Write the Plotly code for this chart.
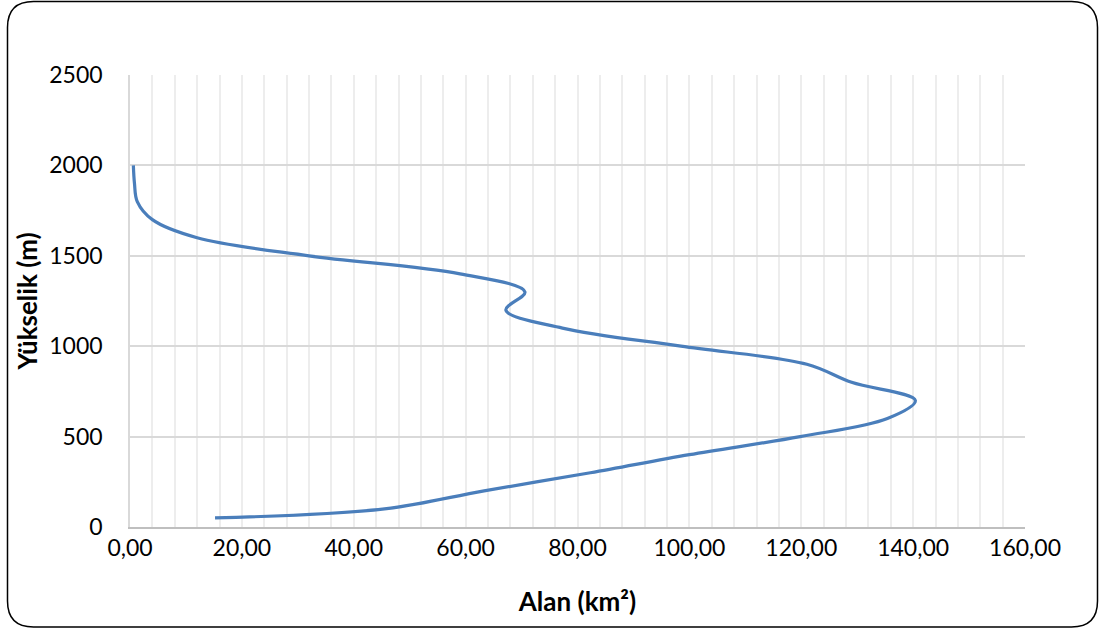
import plotly.graph_objects as go

# Data
elevation_m = [50, 100, 200, 300, 400, 500, 600, 700, 800, 900, 1000,
               1100, 1200, 1300, 1400, 1500, 1600, 1700, 1800, 1900, 2000]
area_km2 = [15.2, 45.5, 63.3, 82.3, 100.0, 119.8, 135.4, 140.4, 129.0, 121.0, 98.5,
            77.3, 67.2, 70.6, 59.0, 32.0, 12.0, 4.0, 1.3, 0.8, 0.6]

x_tickvals = [0, 20, 40, 60, 80, 100, 120, 140, 160]
x_ticktext = ["0,00", "20,00", "40,00", "60,00", "80,00", "100,00", "120,00", "140,00", "160,00"]
y_tickvals = [0, 500, 1000, 1500, 2000, 2500]
y_ticktext = ["0", "500", "1000", "1500", "2000", "2500"]

W, H = 1099, 629
L, R, T, B = 130, 1025, 75, 527
FONT = "Lato, 'Open Sans', sans-serif"

fig = go.Figure()
fig.add_trace(go.Scatter(
    x=area_km2, y=elevation_m, mode="lines",
    line=dict(color="#4A7EBB", width=3.2, shape="spline", smoothing=1.0),
    hoverinfo="x+y", showlegend=False,
))

# rounded border around the chart, in pixels converted to paper coordinates
def px(xp):
    return (xp - L) / (R - L)

def py(yp):
    return (B - yp) / (B - T)

x0, x1, y0, y1, r = 7.5, 1097.5, 1.5, 627, 26
path = (
    f"M {px(x0 + r)},{py(y0)} L {px(x1 - r)},{py(y0)} "
    f"Q {px(x1)},{py(y0)} {px(x1)},{py(y0 + r)} "
    f"L {px(x1)},{py(y1 - r)} "
    f"Q {px(x1)},{py(y1)} {px(x1 - r)},{py(y1)} "
    f"L {px(x0 + r)},{py(y1)} "
    f"Q {px(x0)},{py(y1)} {px(x0)},{py(y1 - r)} "
    f"L {px(x0)},{py(y0 + r)} "
    f"Q {px(x0)},{py(y0)} {px(x0 + r)},{py(y0)} Z"
)
fig.add_shape(type="path", path=path, xref="paper", yref="paper",
              line=dict(color="black", width=1.5), layer="above")

fig.update_layout(
    width=W, height=H,
    margin=dict(l=L, r=W - R, t=T, b=H - B, pad=0),
    paper_bgcolor="white", plot_bgcolor="white",
    font=dict(family=FONT, size=23, color="black"),
    xaxis=dict(
        range=[0, 160], tickvals=x_tickvals, ticktext=x_ticktext,
        showgrid=True, gridcolor="#EDEDED", gridwidth=1.5,
        minor=dict(dtick=4, tick0=0, showgrid=True, gridcolor="#EDEDED", gridwidth=1.5),
        showline=True, linecolor="#BFBFBF", linewidth=1.5,
        zeroline=False, ticks="", ticklabelstandoff=0,
        title=dict(text="<b>Alan (km²)</b>", font=dict(family=FONT, size=26, color="black"), standoff=32),
    ),
    yaxis=dict(
        range=[0, 2500], tickvals=y_tickvals, ticktext=y_ticktext,
        showgrid=True, gridcolor="#D9D9D9", gridwidth=1.5,
        showline=True, linecolor="#D9D9D9", linewidth=1.5,
        zeroline=False, ticks="", ticklabelstandoff=21,
        title=dict(text="<b>Yükselik (m)</b>", font=dict(family=FONT, size=26, color="black"), standoff=4),
    ),
)

fig.write_html("out.html", config={"displayModeBar": False},
               post_script="document.body.style.margin='0px';")
